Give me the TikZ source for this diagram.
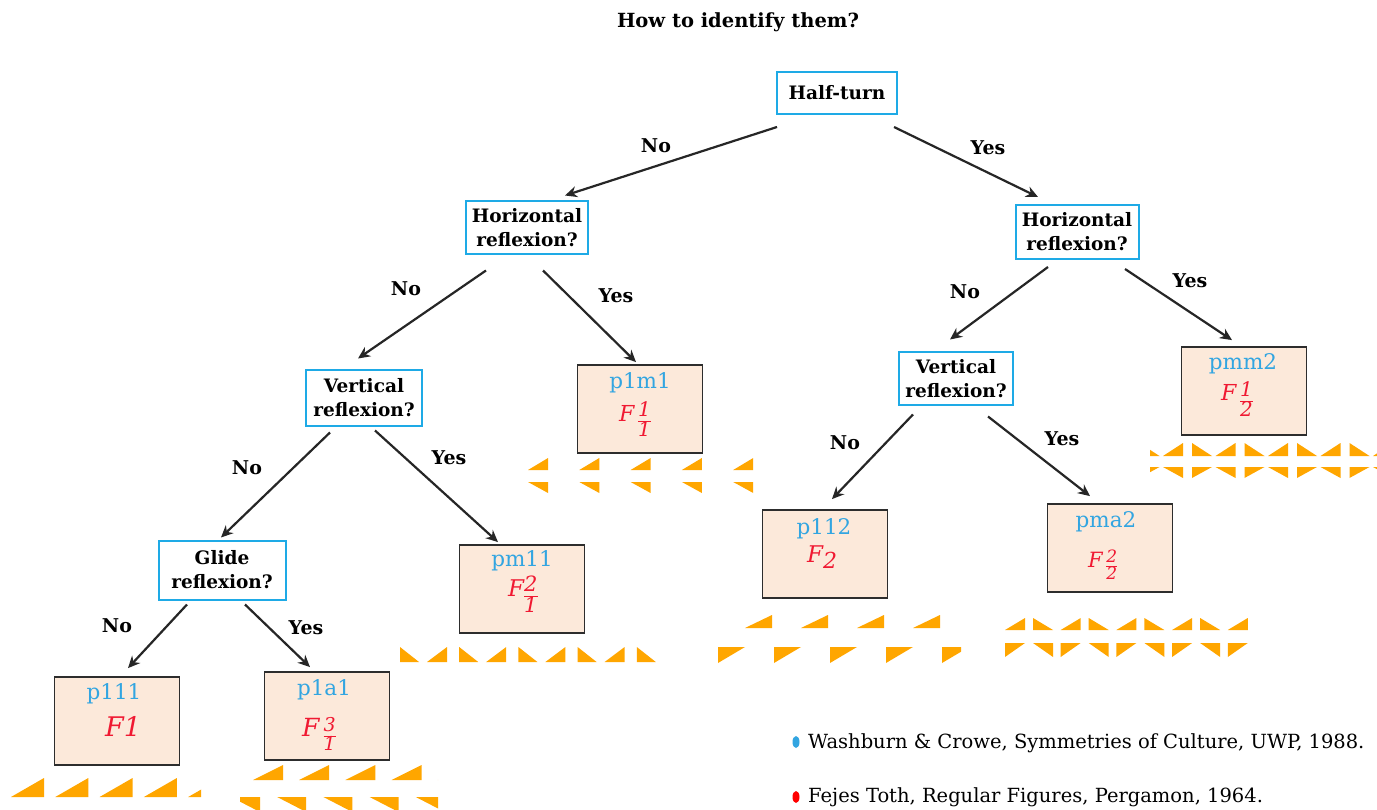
\documentclass[tikz,border=0pt]{standalone}
\usepackage{fontspec}
\setmainfont{DejaVu Serif}
\usetikzlibrary{arrows.meta,calc}
\definecolor{boxcyan}{RGB}{30,170,230}
\definecolor{namecol}{RGB}{50,165,225}
\definecolor{peach}{RGB}{252,233,218}
\definecolor{fred}{RGB}{240,25,50}
\definecolor{triorange}{RGB}{255,166,0}
\definecolor{bord}{RGB}{45,45,45}
\newcommand\frzBR[4]{\fill[triorange] (#1,#4) -- (#2,#4) -- (#2,#3) -- cycle;}
\newcommand\frzBL[4]{\fill[triorange] (#1,#3) -- (#1,#4) -- (#2,#4) -- cycle;}
\newcommand\frzTR[4]{\fill[triorange] (#1,#3) -- (#2,#3) -- (#2,#4) -- cycle;}
\newcommand\frzTL[4]{\fill[triorange] (#1,#3) -- (#2,#3) -- (#1,#4) -- cycle;}
% fraction: size, numerator, denominator (bar near the baseline)
\newcommand\frc[3]{{\fontsize{#1}{#1}\selectfont\setlength\arrayrulewidth{1.3pt}%
  \renewcommand\arraystretch{0.8}\setlength\tabcolsep{0pt}%
  \raisebox{5pt}{\begin{tabular}[t]{c}#2\\\hline #3\end{tabular}}}}
\newcommand\fsz[1]{\fontsize{#1}{#1}\selectfont}
\tikzset{
  decision/.style={draw=boxcyan, line width=2pt, fill=white, align=center,
    font=\bfseries\fontsize{18.5}{24}\selectfont, inner sep=0pt},
  result/.style={draw=bord, line width=1.8pt, fill=peach, minimum width=125pt,
    minimum height=88pt, inner sep=0pt},
  nm/.style={text=namecol, font=\fontsize{21.5}{24}\selectfont, inner sep=0pt},
  fm/.style={text=fred, font=\itshape, inner sep=0pt, anchor=base west},
  lbl/.style={font=\bfseries\fontsize{19}{21}\selectfont, inner sep=0pt},
  arr/.style={-{Stealth[length=12pt,width=11pt]}, line width=2.2pt, black!85},
  ref/.style={font=\fontsize{19.5}{22}\selectfont, anchor=west, inner sep=0pt}
}
\begin{document}
\begin{tikzpicture}[x=1pt,y=-1pt]
\useasboundingbox (0,0) rectangle (1377,810);
\fill[white] (0,0) rectangle (1377,810);

% title
\node[font=\bfseries\fontsize{19.5}{22}\selectfont, inner sep=0pt] (title) at (738,22) {How to identify them?};

% decision boxes
\node[decision, minimum width=120pt, minimum height=42pt] (ht) at (837,93) {Half-turn};
\node[decision, minimum width=122pt, minimum height=53pt] (hrl) at (527,228) {Horizontal\\reflexion?};
\node[decision, minimum width=123pt, minimum height=54pt] (hrr) at (1077,232) {Horizontal\\reflexion?};
\node[decision, minimum width=116pt, minimum height=55pt] (vrl) at (364,398) {Vertical\\reflexion?};
\node[decision, minimum width=114pt, minimum height=53pt] (vrr) at (956,379) {Vertical\\reflexion?};
\node[decision, minimum width=127pt, minimum height=59pt] (gl) at (222,570) {Glide\\reflexion?};

% result boxes
\node[result] (p111) at (117,721) {};
\node[result] (p1a1) at (327,716) {};
\node[result] (pm11) at (522,589) {};
\node[result] (p1m1) at (640,409) {};
\node[result] (p112) at (825,554) {};
\node[result] (pma2) at (1110,548) {};
\node[result] (pmm2) at (1244,391) {};

% names and formulas
\node[nm] (p111n) at (114,694) {p111};
\node[fm] (p111f) at (105,736) {\fsz{27}F1};
\node[nm] (p1a1n) at (324,690) {p1a1};
\node[fm] (p1a1f) at (302,736) {\fsz{25}F\,\frc{19}{3}{1}};
\node[nm] (p1m1n) at (640,383) {p1m1};
\node[fm] (p1m1f) at (619,421) {\fsz{22}F\,\frc{20}{1}{1}};
\node[nm] (pm11n) at (522,561) {pm11};
\node[fm] (pm11f) at (508,596) {\fsz{23}F\frc{21}{2}{1}};
\node[nm] (p112n) at (824,529) {p112};
\node[fm] (p112f) at (807,562) {\fsz{23}F\raisebox{-6pt}{\fsz{22}2}};
\node[nm] (pma2n) at (1106,522) {pma2};
\node[fm] (pma2f) at (1088,567) {\fsz{21}F\,\frc{17}{2}{2}};
\node[nm] (pmm2n) at (1243,364) {pmm2};
\node[fm] (pmm2f) at (1221,401) {\fsz{22}F\,\frc{20}{1}{2}};

% arrows
\draw[arr] ($(ht.south west)+(1,12)$) -- ($(hrl.north)+(38,-5)$);
\draw[arr] ($(ht.south east)+(-4,12)$) -- ($(hrr.north)+(-39,-7)$);
\draw[arr] ($(hrl.south)+(-41,15)$) -- ($(vrl.north)+(-6,-11)$);
\draw[arr] ($(hrl.south)+(16,15)$) -- ($(p1m1.north)+(-4,-2)$);
\draw[arr] ($(vrl.south)+(-34,6)$) -- ($(gl.north)+(-1,-2)$);
\draw[arr] ($(vrl.south)+(11,4)$) -- ($(pm11.north)+(-24,-2)$);
\draw[arr] ($(gl.south)+(-35,4)$) -- ($(p111.north)+(11,-8)$);
\draw[arr] ($(gl.south)+(23,4)$) -- ($(p1a1.north)+(-17,-4)$);
\draw[arr] ($(hrr.south)+(-29,7)$) -- ($(vrr.north)+(-6,-12)$);
\draw[arr] ($(hrr.south)+(48,9)$) -- ($(pmm2.north)+(-12,-6)$);
\draw[arr] ($(vrr.south)+(-43,8)$) -- ($(p112.north)+(7,-10)$);
\draw[arr] ($(vrr.south)+(32,10)$) -- ($(pma2.north)+(-20,-7)$);

% arrow labels
\node[lbl] (l1) at (656,146) {No};
\node[lbl] (l2) at (988,148) {Yes};
\node[lbl] (l3) at (406,289) {No};
\node[lbl] (l4) at (616,296) {Yes};
\node[lbl] (l5) at (247,468) {No};
\node[lbl] (l6) at (449,458) {Yes};
\node[lbl] (l7) at (117,626) {No};
\node[lbl] (l8) at (306,628) {Yes};
\node[lbl] (l9) at (965,292) {No};
\node[lbl] (l10) at (1190,281) {Yes};
\node[lbl] (l11) at (845,443) {No};
\node[lbl] (l12) at (1062,439) {Yes};

% friezes
% p111
\begin{scope}
\clip (0,770) rectangle (201,800);
\foreach \k in {0,...,4}{\pgfmathsetmacro\L{11+44.3*\k}\pgfmathsetmacro\R{\L+33}\frzBR{\L}{\R}{778}{797}}
\end{scope}
% p1a1
\begin{scope}
\clip (240,760) rectangle (438,810);
\foreach \k in {0,...,4}{\pgfmathsetmacro\L{253+46.2*\k}\pgfmathsetmacro\R{\L+30}\frzBR{\L}{\R}{765}{780}}
\foreach \k in {0,...,4}{\pgfmathsetmacro\L{231+46.2*\k}\pgfmathsetmacro\R{\L+29}\frzTR{\L}{\R}{797}{812}}
\end{scope}
% pm11
\foreach \k in {0,...,4}{\pgfmathsetmacro\L{400+59.2*\k}\pgfmathsetmacro\R{\L+19}\frzBL{\L}{\R}{647}{662}}
\foreach \k in {0,...,3}{\pgfmathsetmacro\L{427+59.2*\k}\pgfmathsetmacro\R{\L+20}\frzBR{\L}{\R}{647}{662}}
% p1m1
\foreach \k in {0,...,4}{\pgfmathsetmacro\L{528+51.3*\k}\pgfmathsetmacro\R{\L+20}\frzBR{\L}{\R}{458}{470}\frzTR{\L}{\R}{482}{493}}
% p112
\begin{scope}
\clip (700,600) rectangle (961,670);
\foreach \k in {0,...,3}{\pgfmathsetmacro\L{745+56*\k}\pgfmathsetmacro\R{\L+27}\frzBR{\L}{\R}{615}{628}}
\foreach \k in {0,...,4}{\pgfmathsetmacro\L{718+56*\k}\pgfmathsetmacro\R{\L+27}\frzTL{\L}{\R}{647}{663}}
\end{scope}
% pma2
\foreach \k in {0,...,4}{\pgfmathsetmacro\L{1005+55.7*\k}\pgfmathsetmacro\R{\L+20}\frzBR{\L}{\R}{618}{630}\frzTL{\L}{\R}{643}{657}}
\foreach \k in {0,...,3}{\pgfmathsetmacro\L{1033+55.7*\k}\pgfmathsetmacro\R{\L+20}\frzBL{\L}{\R}{618}{630}\frzTR{\L}{\R}{643}{657}}
% pmm2
\begin{scope}
\clip (1150,430) rectangle (1377,490);
\foreach \k in {0,...,4}{\pgfmathsetmacro\L{1163+52.5*\k}\pgfmathsetmacro\R{\L+20}\frzBR{\L}{\R}{443}{456}\frzTR{\L}{\R}{467}{478}}
\foreach \k in {-1,0,...,4}{\pgfmathsetmacro\L{1192+52.5*\k}\pgfmathsetmacro\R{\L+20}\frzBL{\L}{\R}{443}{456}\frzTL{\L}{\R}{467}{478}}
\end{scope}

% references
\fill[namecol] (796,742) ellipse (3.5pt and 6pt);
\node[ref] (r1) at (808,743) {Washburn \& Crowe, Symmetries of Culture, UWP, 1988.};
\fill[red] (796,797) ellipse (3.5pt and 6pt);
\node[ref] (r2) at (808,797) {Fejes Toth, Regular Figures, Pergamon, 1964.};
\end{tikzpicture}
\end{document}
